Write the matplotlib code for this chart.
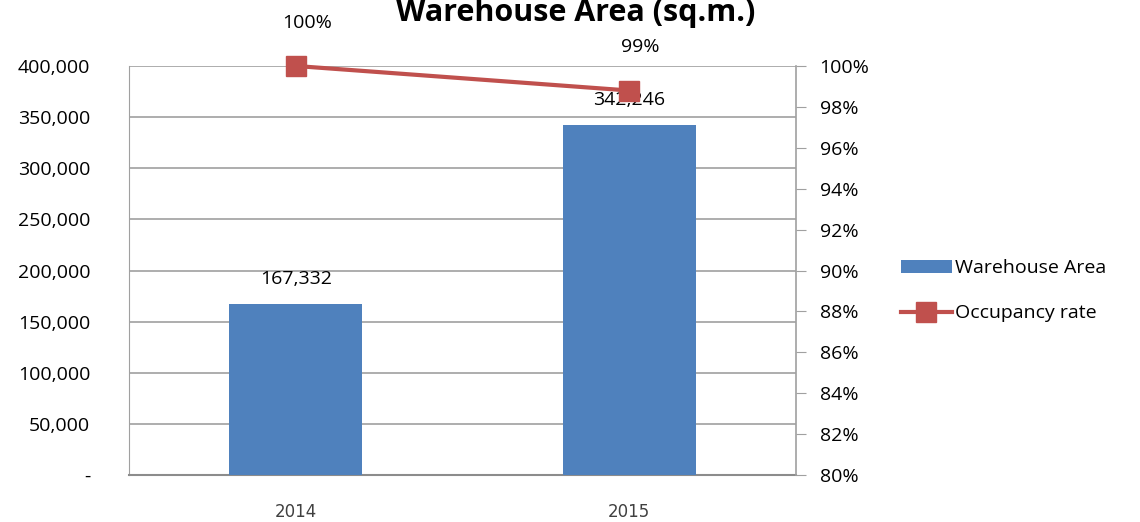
import numpy as np
import matplotlib
matplotlib.use("Agg")
import matplotlib.pyplot as plt
from matplotlib.ticker import FuncFormatter

plt.rcParams['font.family'] = ['Open Sans', 'DejaVu Sans']

years = ["2014", "2015"]
area = [167332, 342246]
occupancy = [1.00, 0.988]
occ_labels = ["100%", "99%"]

bar_color = "#4F81BD"
line_color = "#C0504D"

fig = plt.figure(figsize=(11.4, 5.22), dpi=100)
ax = fig.add_axes([0.1132, 0.090, 0.585, 0.7836])
x = np.arange(len(years))

ax.bar(x, area, width=0.4, color=bar_color, zorder=3, label="Warehouse Area")
ax.set_xlim(-0.5, 1.5)
ax.set_ylim(0, 400000)
ax.set_yticks(np.arange(0, 400001, 50000))
ax.yaxis.set_major_formatter(FuncFormatter(lambda v, p: "-" if v == 0 else f"{int(v):,}"))
ax.grid(axis="y", color="#A0A0A0", linewidth=1.2, zorder=0)
ax.tick_params(axis="y", length=0, labelsize=14, pad=28)
ax.set_xticks(x)
ax.set_xticklabels(years, fontsize=12, color="#404040",
                   family=["Liberation Sans Narrow", "DejaVu Sans"])
ax.tick_params(axis="x", length=0, pad=20)
ax.spines["top"].set_visible(False)
ax.spines["left"].set_color("#A0A0A0")
ax.spines["bottom"].set_color("#8C8C8C")
ax.spines["bottom"].set_linewidth(1.5)
ax.spines["right"].set_visible(False)

for xi, v in zip(x, area):
    ax.text(xi, v + 16000, f"{v:,}", ha="center", va="bottom", fontsize=14)

ax2 = ax.twinx()
ax2.plot(x, occupancy, color=line_color, linewidth=3, marker="s", markersize=14.5,
         label="Occupancy rate", zorder=5, clip_on=False)
ax2.set_ylim(0.80, 1.00)
ax2.set_yticks(np.arange(0.80, 1.0001, 0.02))
ax2.yaxis.set_major_formatter(FuncFormatter(lambda v, p: f"{v*100:.0f}%"))
ax2.tick_params(axis="y", labelsize=14, length=7, color="#A0A0A0", pad=10)
for s in ["top", "left", "bottom"]:
    ax2.spines[s].set_visible(False)
ax2.spines["right"].set_color("#A0A0A0")
ax2.spines["right"].set_linewidth(1.2)

for xi, v, lab in zip(x, occupancy, occ_labels):
    ax2.annotate(lab, (xi, v), xytext=(8, 31), textcoords="offset points",
                 ha="center", va="center", fontsize=14, annotation_clip=False)

fig.text(0.505, 0.96, "Warehouse Area (sq.m.)", ha="center", va="baseline",
         fontsize=22, fontweight="bold")

h1, l1 = ax.get_legend_handles_labels()
h2, l2 = ax2.get_legend_handles_labels()
fig.legend(h1 + h2, l1 + l2, loc="center left", bbox_to_anchor=(0.775, 0.443),
           frameon=False, fontsize=14, handlelength=2.6, handletextpad=0.2,
           labelspacing=1.4)

fig.savefig("out.png", dpi=100)
